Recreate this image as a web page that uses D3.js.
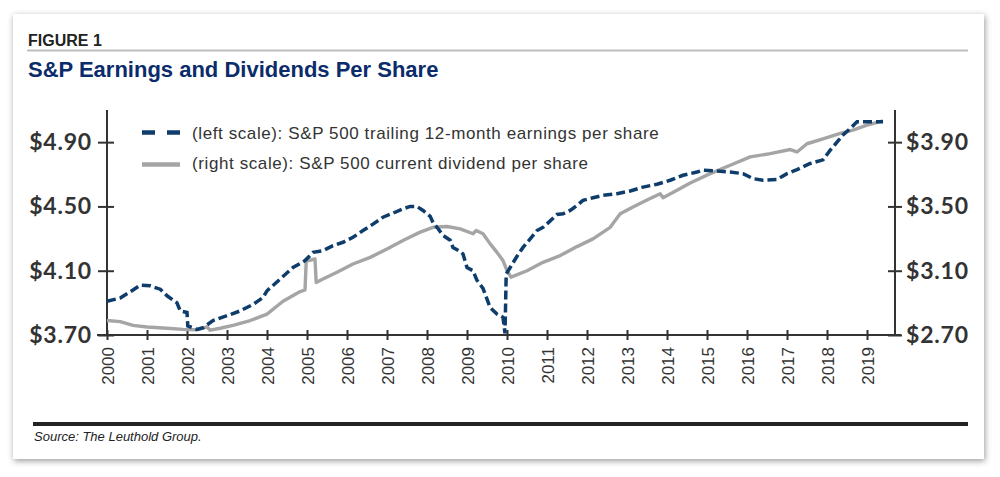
<!DOCTYPE html>
<html>
<head>
<meta charset="utf-8">
<script src="https://cdn.jsdelivr.net/npm/d3@7"></script>
<style>
  body { margin: 0; background: #fff; }
  svg { display: block; }
</style>
</head>
<body>
<div id="chart"></div>
<script>
// Earnings per share, left scale (date as decimal year)
var epsDates = [2000.00, 2000.33, 2000.65, 2000.83, 2001.08, 2001.33, 2001.50, 2001.75, 2001.83, 2002.00,
  2002.02, 2002.25, 2002.40, 2002.65, 2003.00, 2003.33, 2003.65, 2003.90, 2004.00, 2004.33,
  2004.65, 2004.95, 2005.15, 2005.40, 2005.65, 2005.90, 2006.15, 2006.40, 2006.65, 2006.90,
  2007.15, 2007.40, 2007.58, 2007.75, 2007.90, 2008.08, 2008.15, 2008.25, 2008.40, 2008.58,
  2008.65, 2008.83, 2008.90, 2009.00, 2009.15, 2009.25, 2009.40, 2009.58, 2009.75, 2009.90,
  2009.95, 2009.98, 2010.08, 2010.25, 2010.40, 2010.58, 2010.75, 2010.90, 2011.08, 2011.25,
  2011.40, 2011.58, 2011.75, 2011.90, 2012.15, 2012.40, 2012.75, 2013.08, 2013.40, 2013.75,
  2014.08, 2014.40, 2014.75, 2014.90, 2015.25, 2015.58, 2015.90, 2016.15, 2016.40, 2016.75,
  2017.00, 2017.25, 2017.58, 2017.90, 2018.08, 2018.25, 2018.40, 2018.58, 2018.75, 2019.08,
  2019.40];
var epsValues = [3.91, 3.93, 3.98, 4.01, 4.006, 3.985, 3.944, 3.90, 3.85, 3.84,
  3.756, 3.735, 3.745, 3.79, 3.82, 3.85, 3.89, 3.933, 3.975, 4.048,
  4.12, 4.163, 4.214, 4.225, 4.256, 4.277, 4.308, 4.35, 4.39, 4.433,
  4.458, 4.485, 4.50, 4.50, 4.475, 4.438, 4.40, 4.37, 4.32, 4.29,
  4.245, 4.22, 4.204, 4.12, 4.10, 4.04, 3.99, 3.87, 3.83, 3.81,
  3.71, 4.08, 4.12, 4.19, 4.245, 4.298, 4.35, 4.37, 4.41, 4.45,
  4.454, 4.475, 4.506, 4.538, 4.554, 4.569, 4.579, 4.596, 4.62, 4.638,
  4.663, 4.694, 4.714, 4.725, 4.72, 4.714, 4.704, 4.673, 4.663, 4.667,
  4.704, 4.729, 4.767, 4.79, 4.85, 4.90, 4.944, 4.985, 5.027, 5.027,
  5.027];

// Current dividend per share, right scale
var divDates = [2000.00, 2000.33, 2000.65, 2001.00, 2001.50, 2001.90, 2002.25, 2002.50, 2002.58, 2002.83,
  2003.15, 2003.58, 2004.00, 2004.40, 2004.83, 2004.95, 2004.98, 2005.20, 2005.23, 2005.40,
  2005.75, 2006.15, 2006.58, 2007.00, 2007.40, 2007.83, 2008.15, 2008.50, 2008.83, 2009.15,
  2009.23, 2009.40, 2009.58, 2009.75, 2009.90, 2010.00, 2010.10, 2010.50, 2010.90, 2011.33,
  2011.75, 2012.15, 2012.58, 2012.83, 2013.15, 2013.50, 2013.83, 2013.90, 2014.25, 2014.58,
  2015.08, 2015.58, 2016.08, 2016.58, 2017.08, 2017.25, 2017.50, 2017.90, 2018.33, 2018.65,
  2019.00, 2019.40];
var divValues = [2.79, 2.783, 2.76, 2.75, 2.742, 2.735, 2.733, 2.75, 2.73, 2.742,
  2.76, 2.79, 2.83, 2.91, 2.97, 2.98, 3.16, 3.173, 3.027, 3.048,
  3.09, 3.142, 3.183, 3.235, 3.288, 3.34, 3.37, 3.375, 3.36, 3.33,
  3.35, 3.33, 3.267, 3.214, 3.163, 3.10, 3.06, 3.10, 3.152, 3.194,
  3.25, 3.298, 3.37, 3.454, 3.496, 3.54, 3.579, 3.554, 3.60, 3.646,
  3.704, 3.756, 3.808, 3.829, 3.854, 3.839, 3.89, 3.92, 3.954, 3.975,
  4.006, 4.033];

var years = d3.range(2000, 2020);
var leftTicks = [3.70, 4.10, 4.50, 4.90];
var rightTicks = [2.70, 3.10, 3.50, 3.90];

var legendLabels = [
  "(left scale): S&P 500 trailing 12-month earnings per share",
  "(right scale): S&P 500 current dividend per share"
];

var W = 1000, H = 477;
var navy = "#0e3d6c", grey = "#a5a5a5", ink = "#333";

var svg = d3.select("#chart").append("svg")
  .attr("width", W)
  .attr("height", H);

// card with soft shadow
var defs = svg.append("defs");
var f = defs.append("filter").attr("id", "shadow")
  .attr("x", "-5%").attr("y", "-5%").attr("width", "110%").attr("height", "115%");
f.append("feDropShadow").attr("dx", 1).attr("dy", 2).attr("stdDeviation", 3)
  .attr("flood-color", "#000").attr("flood-opacity", 0.4);

svg.append("rect")
  .attr("x", 13).attr("y", 14).attr("width", 971).attr("height", 445)
  .attr("fill", "#fff")
  .attr("filter", "url(#shadow)");

// header
svg.append("text")
  .attr("x", 28).attr("y", 46)
  .style("font-family", "Liberation Sans, Arial, sans-serif")
  .style("font-weight", "bold")
  .style("font-size", "16px")
  .style("fill", "#222")
  .text("FIGURE 1");

svg.append("line")
  .attr("x1", 27).attr("x2", 968).attr("y1", 50.5).attr("y2", 50.5)
  .attr("stroke", "#bdbdbd").attr("stroke-width", 2);

svg.append("text")
  .attr("x", 28).attr("y", 77)
  .style("font-family", "Liberation Sans, Arial, sans-serif")
  .style("font-weight", "bold")
  .style("font-size", "22px")
  .style("fill", "#0b2c6b")
  .text("S&P Earnings and Dividends Per Share");

// scales
var x = d3.scaleLinear().domain([2000, 2019.7]).range([107, 895]);
var yL = d3.scaleLinear().domain([3.70, 5.10]).range([335, 110]);
var yR = d3.scaleLinear().domain([2.70, 4.10]).range([335, 110]);

var g = svg.append("g");

// bottom axis with ticks crossing the line
var xAxis = d3.axisBottom(x).tickValues(years).tickSize(0).tickFormat(d3.format("d"));
var xa = g.append("g").attr("transform", "translate(0,335)").call(xAxis);
xa.select(".domain").remove();
xa.selectAll(".tick text")
  .attr("transform", "rotate(-90)")
  .attr("x", -12).attr("y", 0).attr("dy", "0.36em")
  .style("text-anchor", "end")
  .style("font-family", "Liberation Sans, Arial, sans-serif")
  .style("font-size", "17px")
  .style("fill", ink);
xa.selectAll(".tick").append("line")
  .attr("y1", -5).attr("y2", 5)
  .attr("stroke", ink).attr("stroke-width", 2);
g.append("line")
  .attr("x1", 97).attr("x2", 901).attr("y1", 335).attr("y2", 335)
  .attr("stroke", ink).attr("stroke-width", 2.2);

// left axis
var yaL = g.append("g").attr("transform", "translate(107,0)")
  .call(d3.axisLeft(yL).tickValues(leftTicks).tickSize(0).tickPadding(15)
    .tickFormat(function(d) { return "$" + d.toFixed(2); }));
yaL.select(".domain").remove();
yaL.selectAll(".tick").append("line")
  .attr("x1", -9).attr("x2", 7)
  .attr("stroke", ink).attr("stroke-width", 2);
g.append("line")
  .attr("x1", 107).attr("x2", 107).attr("y1", 110).attr("y2", 335)
  .attr("stroke", ink).attr("stroke-width", 2);

// right axis
var yaR = g.append("g").attr("transform", "translate(895,0)")
  .call(d3.axisRight(yR).tickValues(rightTicks).tickSize(0).tickPadding(11)
    .tickFormat(function(d) { return "$" + d.toFixed(2); }));
yaR.select(".domain").remove();
yaR.selectAll(".tick").append("line")
  .attr("x1", -7).attr("x2", 7)
  .attr("stroke", ink).attr("stroke-width", 2);
g.append("line")
  .attr("x1", 895).attr("x2", 895).attr("y1", 110).attr("y2", 335)
  .attr("stroke", ink).attr("stroke-width", 2);

g.selectAll(".tick text").filter(function() { return this.parentNode.parentNode !== xa.node(); })
  .style("font-family", "Lato, sans-serif")
  .style("font-weight", "bold")
  .style("font-size", "23px")
  .style("letter-spacing", "0.8px")
  .style("fill", ink);

// series
var divLine = d3.line()
  .x(function(d, i) { return x(divDates[i]); })
  .y(function(d) { return yR(d); });
var epsLine = d3.line()
  .x(function(d, i) { return x(epsDates[i]); })
  .y(function(d) { return yL(d); });

g.append("path")
  .attr("d", divLine(divValues))
  .attr("fill", "none")
  .attr("stroke", grey)
  .attr("stroke-width", 3.4)
  .attr("stroke-linejoin", "round");

g.append("path")
  .attr("d", epsLine(epsValues))
  .attr("fill", "none")
  .attr("stroke", navy)
  .attr("stroke-width", 3.5)
  .attr("stroke-dasharray", "9,4");

// legend
var leg = g.append("g");
leg.append("line")
  .attr("x1", 142).attr("x2", 180).attr("y1", 132.5).attr("y2", 132.5)
  .attr("stroke", navy).attr("stroke-width", 4.5)
  .attr("stroke-dasharray", "13,12");
leg.append("line")
  .attr("x1", 142).attr("x2", 180).attr("y1", 164.5).attr("y2", 164.5)
  .attr("stroke", grey).attr("stroke-width", 4.5);
leg.selectAll("text.lg")
  .data(legendLabels)
  .enter().append("text")
  .attr("class", "lg")
  .attr("x", 192)
  .attr("y", function(d, i) { return 138.5 + i * 30; })
  .style("font-family", "Liberation Sans, Arial, sans-serif")
  .style("font-size", "17px")
  .style("letter-spacing", "0.6px")
  .style("fill", ink)
  .text(function(d) { return d; });

// footer
svg.append("line")
  .attr("x1", 33).attr("x2", 968).attr("y1", 424).attr("y2", 424)
  .attr("stroke", "#222").attr("stroke-width", 4);

svg.append("text")
  .attr("x", 34).attr("y", 441)
  .style("font-family", "Liberation Sans Narrow, Liberation Sans, Arial, sans-serif")
  .style("font-style", "italic")
  .style("font-size", "13px")
  .style("fill", "#222")
  .text("Source: The Leuthold Group.");
</script>
</body>
</html>
